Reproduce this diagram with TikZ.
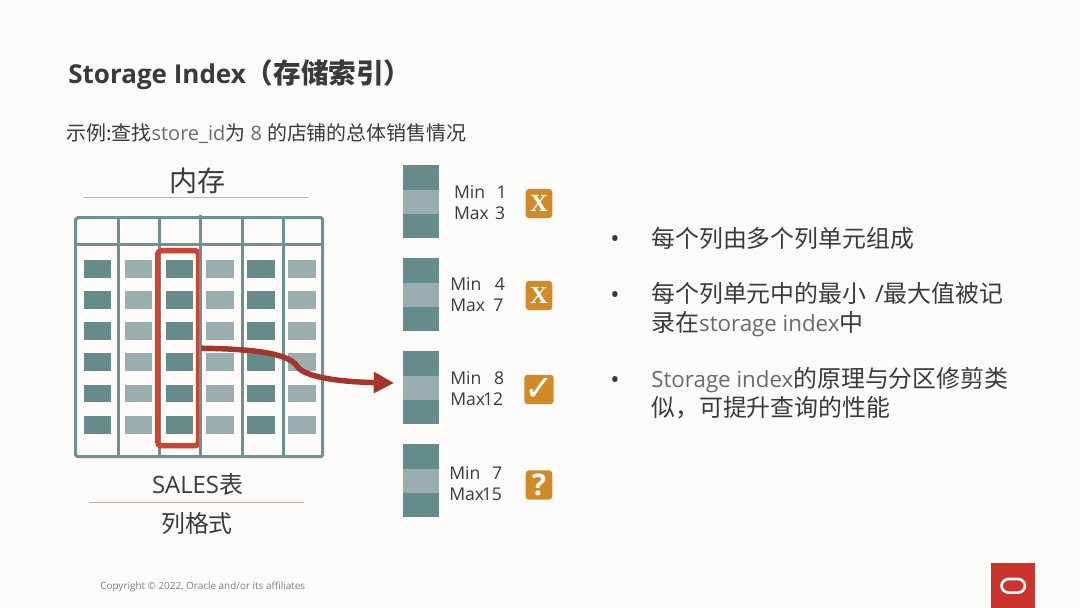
\documentclass[tikz,border=0pt]{standalone}
\usepackage{fontspec}
\setmainfont{Open Sans}
\newfontfamily\cjk{Noto Sans CJK SC}
\newfontfamily\marksfont{DejaVu Sans}
\newfontfamily\badgeserif{Liberation Serif}
\usetikzlibrary{arrows.meta}
\definecolor{pagebg}{HTML}{FCFBF9}
\definecolor{tealline}{HTML}{6C9292}
\definecolor{tealdark}{HTML}{668B8B}
\definecolor{teallight}{HTML}{9AADAF}
\definecolor{inkgray}{HTML}{3A3A38}
\definecolor{latingray}{HTML}{6A6A68}
\definecolor{rulegray}{HTML}{BDB5AE}
\definecolor{selred}{HTML}{C9452F}
\definecolor{arrowred}{HTML}{A5352A}
\definecolor{badgeorange}{HTML}{D08A26}
\definecolor{logored}{HTML}{C9352D}
\newcommand\latinpart[1]{{\fontsize{12.7pt}{16.4pt}\selectfont\color{latingray}#1}}

\begin{document}
\begin{tikzpicture}[
  x=.02cm,y=-.02cm,
  inktext/.style={text=inkgray,inner sep=0pt,font=\fontsize{13.6pt}{16.4pt}\selectfont},
  point/.style={inktext,anchor=north west,align=left},
  minmax/.style={inktext,anchor=west,align=left,font=\fontsize{10pt}{11.9pt}\selectfont},
  badge/.style={fill=badgeorange,rounded corners=2pt,minimum width=.532cm,minimum height=.59cm,inner sep=0pt,text=white},
  gridline/.style={draw=tealline,line width=1.7pt},
  titlerule/.style={draw=rulegray,line width=1pt},
  selbox/.style={draw=selred,line width=3.1pt,rounded corners=2pt,minimum width=.82cm,minimum height=3.9cm,inner sep=0pt},
  signal/.style={-{Triangle[length=11.5pt,width=11.5pt]},line width=3.1pt,arrowred}
]
  \fill[pagebg] (0,0) rectangle (1080,608);
  \useasboundingbox (0,0) rectangle (1080,608);

  % headings
  \node[inktext,anchor=west,font=\fontsize{14.8pt}{18pt}\selectfont\bfseries] (title) at (68,75)
    {Storage Index{\fontsize{15.7pt}{18pt}\selectfont\cjk（存储索引）}};
  \node[inktext,anchor=west,font=\fontsize{11.35pt}{14pt}\selectfont] (subtitle) at (66,134)
    {{\cjk 示例:查找}{\color{latingray}store\_id}{\cjk 为} {\color{latingray}8} {\cjk 的店铺的总体销售情况}};
  \node[inktext,font=\fontsize{16pt}{19pt}\selectfont\cjk] (memory) at (197.5,181) {内存};
  \draw[titlerule] (84,197.5) -- (308,197.5);

  % table cells
  \foreach \cx/\shade in {97.3/tealdark,138.5/teallight,179.3/tealdark,220.2/teallight,260.7/tealdark,301.8/teallight}
    \foreach \cy in {268.8,300.1,331.3,362.3,393.5,424.7}
      \fill[\shade] (\cx-13.8,\cy-8.8) rectangle (\cx+13.8,\cy+8.8);

  % table frame
  \draw[gridline,rounded corners=1pt] (75.7,217.7) rectangle (322.7,456.7);
  \draw[gridline] (75.7,244.7) -- (322.7,244.7);
  \foreach \lx in {118.3,159.7,242.3,283.7}
    \draw[gridline] (\lx,217.7) -- (\lx,456.7);

  \node[selbox] (selcol) at (178.2,348.2) {};
  \draw[gridline] (200.7,215) -- (200.7,456.7);

  % min max blocks
  \foreach \by in {165.3,258.3,351.3,444}{
    \fill[tealdark] (403.3,\by) rectangle (438.7,\by+73);
    \fill[teallight] (403.3,\by+24.6) rectangle (438.7,\by+48.9);
  }

  \node[minmax] (rangea) at (453.7,202.5) {Min\hspace{6.5pt}1\\Max\hspace{3.6pt}3};
  \node[minmax] (rangeb) at (450,294.5) {Min\hspace{7.7pt}4\\Max\hspace{4.7pt}7};
  \node[minmax] (rangec) at (450,388.5) {Min\hspace{7.2pt}8\\Max\hspace{-1.2pt}12};
  \node[minmax] (ranged) at (449,483.5) {Min\hspace{6.7pt}7\\Max\hspace{-1.3pt}15};

  \node[badge,font=\fontsize{14pt}{14pt}\selectfont\badgeserif\bfseries] (checka) at (539,203.5) {X};
  \node[badge,font=\fontsize{14pt}{14pt}\selectfont\badgeserif\bfseries] (checkb) at (539,295.5) {X};
  \node[badge,font=\fontsize{20pt}{20pt}\selectfont\marksfont] (checkc) at (539,389.5) {✓};
  \node[badge,font=\fontsize{17pt}{17pt}\selectfont\bfseries] (checkd) at (539,485) {?};

  % selected column to third block
  \coordinate (arrowend) at (394,383);
  \draw[signal] (selcol.east) .. controls (247,349) and (287,352) .. (297,366)
    .. controls (304,378) and (345,382) .. (arrowend);

  % table captions
  \node[inktext,font=\fontsize{13.6pt}{16pt}\selectfont] (sales) at (197.5,484) {SALES{\cjk 表}};
  \draw[titlerule] (89,502.5) -- (304,502.5);
  \node[inktext,font=\fontsize{13.6pt}{16pt}\selectfont\cjk] (format) at (197,523) {列格式};

  % right column
  \foreach \doty/\dotname in {242/dota,298/dotb,383/dotc}
    \node[inktext,font=\fontsize{14pt}{14pt}\selectfont] (\dotname) at (615,\doty) {•};
  \node[point] (pointa) at (651,226.5) {\cjk 每个列由多个列单元组成};
  \node[point] (pointb) at (651,282) {{\cjk 每个列单元中的最小}\hspace{5pt}/{\cjk 最大值被记}\\{\cjk 录在}\latinpart{storage index}{\cjk 中}};
  \node[point] (pointc) at (651,367) {\latinpart{Storage index}{\cjk 的原理与分区修剪类}\\{\cjk 似，可提升查询的性能}};

  % footer
  \node[anchor=west,inner sep=0pt,text=gray,font=\fontsize{5.65pt}{7pt}\selectfont] (copyright) at (100,587)
    {Copyright © 2022, Oracle and/or its affiliates};
  \fill[logored] (990.7,563.3) rectangle (1035,608);
  \draw[white,line width=1.5pt,rounded corners=4pt] (1001.5,579) rectangle (1025,592.6);
\end{tikzpicture}
\end{document}
